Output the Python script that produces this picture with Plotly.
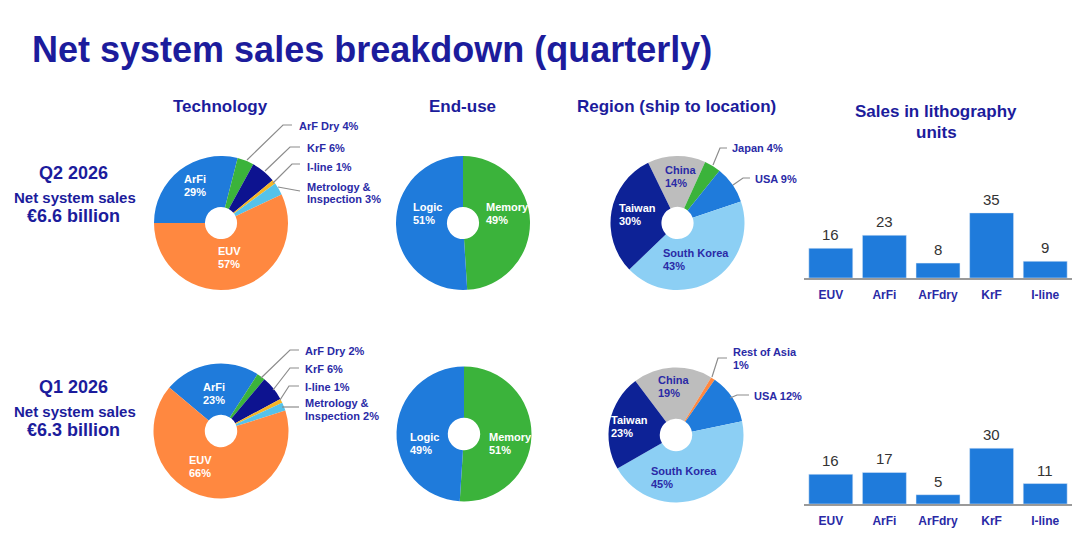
import plotly.graph_objects as go

W, H = 1080, 542

# ---------------- data ----------------
tech_labels = ["ArFi", "ArF Dry", "KrF", "I-line", "Metrology & Inspection", "EUV"]
tech_q2 = [29, 4, 6, 1, 3, 57]
tech_q1 = [23, 2, 6, 1, 2, 66]

enduse_labels = ["Memory", "Logic"]
enduse_q2 = [49, 51]
enduse_q1 = [51, 49]

region_labels_q2 = ["China", "Japan", "USA", "South Korea", "Taiwan"]
region_q2 = [14, 4, 9, 43, 30]
region_labels_q1 = ["China", "Rest of Asia", "USA", "South Korea", "Taiwan"]
region_q1 = [19, 1, 12, 45, 23]

units_cats = ["EUV", "ArFi", "ArFdry", "KrF", "I-line"]
units_q2 = [16, 23, 8, 35, 9]
units_q1 = [16, 17, 5, 30, 11]

quarters = ["Q2 2026", "Q1 2026"]
sales_bn = [6.6, 6.3]

# ---------------- styles ----------------
FONT = "Liberation Sans, Arial, sans-serif"
BLUE_TXT = "#1c1c9c"
LBL_TXT = "#2a2aa6"
LEADER = "#8c8c8c"

colors = {
    "ArFi": "#1f7bdb", "ArF Dry": "#3bb33b", "KrF": "#0d1390",
    "I-line": "#f5b526", "Metrology & Inspection": "#55c2ea", "EUV": "#ff8840",
    "Memory": "#3bb33b", "Logic": "#1f7bdb",
    "China": "#bdbdbd", "Japan": "#3bb33b", "USA": "#1f7bdb",
    "South Korea": "#8ccff4", "Taiwan": "#0d2296", "Rest of Asia": "#ff8840",
}
BAR = "#1f7bdb"


def px(x):
    return x / W


def py(y):
    return 1 - y / H


fig = go.Figure()


def add_pie(labels, values, cx, cy, r, rotation):
    fig.add_trace(go.Pie(
        labels=labels, values=values, sort=False, direction="clockwise",
        rotation=rotation, hole=0.24, textinfo="none",
        marker=dict(colors=[colors[l] for l in labels], line=dict(width=0)),
        domain=dict(x=[px(cx - r), px(cx + r)], y=[py(cy + r), py(cy - r)]),
        showlegend=False, hoverinfo="label+percent",
    ))


R1 = 67
add_pie(tech_labels, tech_q2, 221, 223, R1, -90)
add_pie(enduse_labels, enduse_q2, 463, 223, R1, 0)
add_pie(region_labels_q2, region_q2, 677.5, 223, R1, -26)
R2 = 67.5
add_pie(tech_labels, tech_q1, 221, 431, R2, -50)
add_pie(enduse_labels, enduse_q1, 464, 434, R2, 0)
add_pie(region_labels_q1, region_q1, 676, 435, R2, -37)

# ---------------- bars ----------------
bar_dom_x = [px(804), px(1072)]
YMAX = 48
fig.add_trace(go.Bar(x=units_cats, y=units_q2, marker_color=BAR, xaxis="x", yaxis="y",
                     showlegend=False, hoverinfo="x+y"))
fig.add_trace(go.Bar(x=units_cats, y=units_q1, marker_color=BAR, xaxis="x2", yaxis="y2",
                     showlegend=False, hoverinfo="x+y"))

axis_x = dict(domain=bar_dom_x, showgrid=False, zeroline=False, showline=True,
              linecolor="#9a9a9a", linewidth=1.5, ticks="outside", ticklen=5,
              tickcolor="rgba(0,0,0,0)", fixedrange=True,
              tickfont=dict(family=FONT, size=12, color=LBL_TXT, weight="bold"))
axis_y = dict(range=[0, YMAX], visible=False, showgrid=False, zeroline=False, fixedrange=True)

fig.update_layout(
    xaxis=dict(axis_x, anchor="y"),
    yaxis=dict(axis_y, domain=[py(278), py(278 - 1.86 * YMAX)], anchor="x"),
    xaxis2=dict(axis_x, anchor="y2"),
    yaxis2=dict(axis_y, domain=[py(504), py(504 - 1.86 * YMAX)], anchor="x2"),
    bargap=0.18,
)

annotations = []
shapes = []


def txt(x, y, text, size=11, color=LBL_TXT, bold=True, xanchor="left"):
    annotations.append(dict(
        x=px(x), y=py(y), xref="paper", yref="paper", text=text, showarrow=False,
        xanchor=xanchor, yanchor="middle", align=xanchor if xanchor != "center" else "center",
        font=dict(family=FONT, size=size, color=color, weight="bold" if bold else "normal"),
    ))


def lines(x, y, parts, gap=13, **kw):
    for i, p in enumerate(parts):
        txt(x, y + i * gap, p, **kw)


def leader(pts):
    d = "M " + " L ".join(f"{px(a):.5f},{py(b):.5f}" for a, b in pts)
    shapes.append(dict(type="path", path=d, xref="paper", yref="paper",
                       line=dict(color=LEADER, width=1.2)))


# title
txt(30, 50, "Net system sales breakdown (quarterly)", size=36, color=BLUE_TXT)

# column headers
txt(220, 106, "Technology", size=17, color=BLUE_TXT, xanchor="center")
txt(462, 106, "End-use", size=17, color=BLUE_TXT, xanchor="center")
txt(676, 106, "Region (ship to location)", size=17, color=BLUE_TXT, xanchor="center")
txt(936, 111, "Sales in lithography", size=17, color=BLUE_TXT, xanchor="center")
txt(936, 132, "units", size=17, color=BLUE_TXT, xanchor="center")

# row headers
for i, (q, s) in enumerate(zip(quarters, sales_bn)):
    base = 173 if i == 0 else 387
    txt(73, base, q, size=18, color=BLUE_TXT, xanchor="center")
    txt(75, base + 24, "Net system sales", size=15, color=BLUE_TXT, xanchor="center")
    txt(73, base + 43, f"€{s} billion", size=18, color=BLUE_TXT, xanchor="center")


def pct(labels, values, name):
    return f"{values[labels.index(name)]}%"


W_ = "#ffffff"
# ---- inside labels: technology
lines(195, 179, ["ArFi", pct(tech_labels, tech_q2, "ArFi")], color=W_, xanchor="center")
lines(229, 251, ["EUV", pct(tech_labels, tech_q2, "EUV")], color=W_, xanchor="center")
lines(214, 387, ["ArFi", pct(tech_labels, tech_q1, "ArFi")], color=W_, xanchor="center")
lines(200, 460, ["EUV", pct(tech_labels, tech_q1, "EUV")], color=W_, xanchor="center")
# ---- inside labels: end-use
lines(411, 207, ["Logic", pct(enduse_labels, enduse_q2, "Logic")], color=W_)
lines(484, 207, ["Memory", pct(enduse_labels, enduse_q2, "Memory")], color=W_)
lines(408, 437, ["Logic", pct(enduse_labels, enduse_q1, "Logic")], color=W_)
lines(487, 437, ["Memory", pct(enduse_labels, enduse_q1, "Memory")], color=W_)
# ---- inside labels: region
lines(663, 170, ["China", pct(region_labels_q2, region_q2, "China")])
lines(617, 208, ["Taiwan", pct(region_labels_q2, region_q2, "Taiwan")], color=W_)
lines(661, 253, ["South Korea", pct(region_labels_q2, region_q2, "South Korea")])
lines(656, 380, ["China", pct(region_labels_q1, region_q1, "China")])
lines(609, 420, ["Taiwan", pct(region_labels_q1, region_q1, "Taiwan")], color=W_)
lines(649, 471, ["South Korea", pct(region_labels_q1, region_q1, "South Korea")])

# ---- outside labels: technology Q2
txt(297, 126, "ArF Dry " + pct(tech_labels, tech_q2, "ArF Dry"))
txt(305, 148, "KrF " + pct(tech_labels, tech_q2, "KrF"))
txt(305, 167, "I-line " + pct(tech_labels, tech_q2, "I-line"))
lines(305, 187, ["Metrology &", "Inspection " + pct(tech_labels, tech_q2, "Metrology & Inspection")], gap=12)
leader([(247, 160), (283, 125), (292, 125)])
leader([(265, 171), (290, 147), (300, 147)])
leader([(273, 183), (292, 164), (300, 164)])
leader([(278, 187), (300, 191)])
# ---- outside labels: technology Q1
txt(303, 351, "ArF Dry " + pct(tech_labels, tech_q1, "ArF Dry"))
txt(303, 369, "KrF " + pct(tech_labels, tech_q1, "KrF"))
txt(303, 387, "I-line " + pct(tech_labels, tech_q1, "I-line"))
lines(303, 403, ["Metrology &", "Inspection " + pct(tech_labels, tech_q1, "Metrology & Inspection")], gap=13)
leader([(261, 378), (290, 350), (299, 350)])
leader([(273, 390), (290, 368), (299, 368)])
leader([(280, 400), (289, 386), (299, 386)])
leader([(282, 407), (299, 407)])
# ---- outside labels: region
txt(730, 148, "Japan " + pct(region_labels_q2, region_q2, "Japan"))
txt(753, 179, "USA " + pct(region_labels_q2, region_q2, "USA"))
leader([(713, 165), (720, 148), (727, 148)])
leader([(733, 185), (743, 178), (750, 178)])
lines(731, 352, ["Rest of Asia", pct(region_labels_q1, region_q1, "Rest of Asia")], gap=13)
txt(752, 396, "USA " + pct(region_labels_q1, region_q1, "USA"))
leader([(712, 377), (718, 358), (727, 358)])
leader([(730, 398), (737, 395), (749, 395)])

# ---- bar value labels
for xr, yr, vals in (("x", "y", units_q2), ("x2", "y2", units_q1)):
    for c, v in zip(units_cats, vals):
        annotations.append(dict(x=c, y=v, xref=xr, yref=yr, text=str(v), showarrow=False,
                                yanchor="bottom", yshift=3,
                                font=dict(family=FONT, size=15, color="#333333")))

fig.update_layout(
    width=W, height=H, margin=dict(l=0, r=0, t=0, b=0),
    paper_bgcolor="white", plot_bgcolor="white",
    annotations=annotations, shapes=shapes,
    font=dict(family=FONT),
)

fig.write_html("out.html")
